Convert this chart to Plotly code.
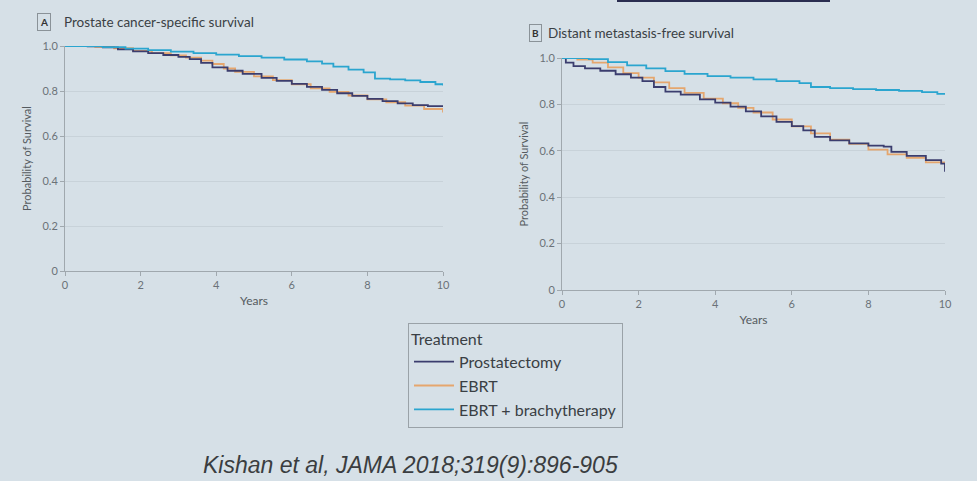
import plotly.graph_objects as go

# ---------------- data ----------------
series_names = ["Prostatectomy", "EBRT", "EBRT + brachytherapy"]

# Panel A: Prostate cancer-specific survival
a_prost_t = [0, 0.6, 1.0, 1.4, 1.8, 2.2, 2.6, 3.0, 3.3, 3.6, 3.9, 4.3, 4.7, 5.2, 5.6, 6.0, 6.4, 6.8, 7.2, 7.6, 8.0, 8.4, 8.8, 9.2, 9.6, 10.0]
a_prost_s = [1.0, 0.998, 0.994, 0.985, 0.976, 0.968, 0.96, 0.952, 0.942, 0.925, 0.905, 0.89, 0.876, 0.858, 0.845, 0.832, 0.818, 0.805, 0.79, 0.778, 0.765, 0.755, 0.745, 0.737, 0.733, 0.733]
a_ebrt_t = [0, 0.8, 1.3, 1.8, 2.3, 2.8, 3.2, 3.6, 3.9, 4.2, 4.5, 5.0, 5.5, 6.0, 6.5, 7.0, 7.5, 8.0, 8.5, 9.0, 9.5, 10.0]
a_ebrt_s = [1.0, 0.996, 0.99, 0.978, 0.968, 0.958, 0.948, 0.935, 0.92, 0.9, 0.885, 0.865, 0.848, 0.83, 0.812, 0.796, 0.78, 0.763, 0.75, 0.735, 0.72, 0.705]
a_brachy_t = [0, 1.0, 1.6, 2.2, 2.8, 3.4, 4.0, 4.6, 5.2, 5.8, 6.4, 6.8, 7.1, 7.5, 7.9, 8.2, 8.6, 9.0, 9.4, 9.8, 10.0]
a_brachy_s = [1.0, 0.995, 0.988, 0.982, 0.975, 0.968, 0.962, 0.955, 0.948, 0.94, 0.932, 0.922, 0.908, 0.895, 0.883, 0.855, 0.852, 0.847, 0.84, 0.83, 0.825]

# Panel B: Distant metastasis-free survival
b_prost_t = [0, 0.1, 0.3, 0.6, 1.0, 1.4, 1.8, 2.1, 2.4, 2.7, 3.1, 3.6, 4.0, 4.4, 4.8, 5.2, 5.6, 6.0, 6.3, 6.6, 7.0, 7.5, 8.0, 8.4, 8.6, 9.0, 9.5, 9.9, 10.0]
b_prost_s = [1.0, 0.98, 0.965, 0.955, 0.945, 0.93, 0.915, 0.9, 0.875, 0.855, 0.842, 0.822, 0.808, 0.79, 0.77, 0.748, 0.725, 0.706, 0.688, 0.66, 0.645, 0.632, 0.622, 0.618, 0.595, 0.578, 0.56, 0.545, 0.51]
b_ebrt_t = [0, 0.4, 0.8, 1.2, 1.6, 2.0, 2.4, 2.8, 3.2, 3.7, 4.2, 4.6, 5.0, 5.5, 6.0, 6.5, 7.0, 7.5, 8.0, 8.5, 9.0, 9.5, 10.0]
b_ebrt_s = [1.0, 0.993, 0.98, 0.96, 0.935, 0.915, 0.895, 0.87, 0.85, 0.825, 0.805, 0.785, 0.765, 0.735, 0.705, 0.675, 0.648, 0.63, 0.605, 0.585, 0.57, 0.55, 0.525]
b_brachy_t = [0, 0.7, 1.2, 1.7, 2.2, 2.7, 3.2, 3.8, 4.4, 5.0, 5.6, 6.2, 6.5, 7.0, 7.6, 8.2, 8.8, 9.4, 9.8, 10.0]
b_brachy_s = [1.0, 0.995, 0.982, 0.968, 0.955, 0.943, 0.932, 0.922, 0.915, 0.908, 0.9, 0.892, 0.875, 0.87, 0.866, 0.862, 0.858, 0.853, 0.845, 0.843]

x_ticks = [0, 2, 4, 6, 8, 10]
y_ticks = [0, 0.2, 0.4, 0.6, 0.8, 1.0]
y_ticklabels = ["0", "0.2", "0.4", "0.6", "0.8", "1.0"]

# ---------------- style ----------------
colors = ["#3b3d6e", "#e5a66e", "#2ba5cf"]
BG = "#d6e0e7"
FONT = "Lato"
TICKC = "#6b7278"

fig = go.Figure()

panelA = [(a_prost_t, a_prost_s), (a_ebrt_t, a_ebrt_s), (a_brachy_t, a_brachy_s)]
panelB = [(b_prost_t, b_prost_s), (b_ebrt_t, b_ebrt_s), (b_brachy_t, b_brachy_s)]

order = [1, 0, 2]
for i in order:
    t, s = panelA[i]
    fig.add_trace(go.Scatter(x=t, y=s, mode="lines", line=dict(color=colors[i], width=1.8, shape="hv"),
                             name=series_names[i], legendrank=i, showlegend=True, cliponaxis=False,
                             xaxis="x", yaxis="y"))
for i in order:
    t, s = panelB[i]
    fig.add_trace(go.Scatter(x=t, y=s, mode="lines", line=dict(color=colors[i], width=1.8, shape="hv"),
                             name=series_names[i], showlegend=False, cliponaxis=False,
                             xaxis="x2", yaxis="y2"))

def xax(domain, anchor):
    return dict(domain=domain, anchor=anchor, range=[0, 10], tickvals=x_ticks, showgrid=False,
                showline=True, linecolor="#a0a8ae", linewidth=1, ticks="outside", ticklen=4,
                tickcolor="#a0a8ae", tickfont=dict(family=FONT, size=11, color=TICKC),
                title=dict(text="Years", font=dict(family=FONT, size=12, color="#555b60"), standoff=6),
                zeroline=False, automargin=False)

def yax(domain, anchor):
    return dict(domain=domain, anchor=anchor, range=[0, 1.0], tickvals=y_ticks, ticktext=y_ticklabels,
                showgrid=True, gridcolor="#c8d2d9", gridwidth=1, showline=True, linecolor="#a0a8ae",
                linewidth=1, ticks="outside", ticklen=4, tickcolor="#a0a8ae",
                tickfont=dict(family=FONT, size=11, color=TICKC),
                title=dict(text="Probability of Survival", font=dict(family=FONT, size=11, color="#555b60"), standoff=8),
                zeroline=False, automargin=False)

fig.update_layout(
    width=977, height=481,
    margin=dict(l=0, r=0, t=0, b=0, autoexpand=False),
    paper_bgcolor=BG, plot_bgcolor=BG,
    xaxis=xax([65/977, 443/977], "y"),
    yaxis=yax([1-271/481, 1-46/481], "x"),
    xaxis2=xax([562/977, 945/977], "y2"),
    yaxis2=yax([1-290/481, 1-58/481], "x2"),
    legend=dict(x=408/977, y=1-323/481, xanchor="left", yanchor="top",
                bgcolor="rgba(0,0,0,0)", bordercolor="#9aa2a8", borderwidth=1,
                font=dict(family=FONT, size=16, color="#3a3f44"),
                title=dict(text="Treatment", font=dict(family=FONT, size=16, color="#3a3f44")),
                tracegroupgap=0, itemwidth=40),
    showlegend=True,
)

annots = [
    dict(x=44, y=22, text="<b>A</b>"),
    dict(x=535, y=33, text="<b>B</b>"),
]
for a in annots:
    fig.add_annotation(x=a["x"]/977, y=1-a["y"]/481, xref="paper", yref="paper", text=a["text"],
                       showarrow=False, font=dict(family=FONT, size=10, color="#333"),
                       bordercolor="#8a9298", borderwidth=1,
                       borderpad=2, xanchor="center", yanchor="middle")
fig.add_annotation(x=62/977, y=1-22/481, xref="paper", yref="paper", text="Prostate cancer-specific survival",
                   showarrow=False, xanchor="left", yanchor="middle",
                   font=dict(family=FONT, size=13.5, color="#3a3f44"))
fig.add_annotation(x=546/977, y=1-33/481, xref="paper", yref="paper", text="Distant metastasis-free survival",
                   showarrow=False, xanchor="left", yanchor="middle",
                   font=dict(family=FONT, size=13.5, color="#3a3f44"))
fig.add_annotation(x=410/977, y=1-465/481, xref="paper", yref="paper",
                   text="<i>Kishan et al, JAMA 2018;319(9):896-905</i>",
                   showarrow=False, xanchor="center", yanchor="middle",
                   font=dict(family="Liberation Sans", size=23, color="#3a3d40"))

fig.add_shape(type="line", xref="paper", yref="paper", x0=617/977, x1=830/977, y0=1-1/481, y1=1-1/481,
              line=dict(color="#2a2d50", width=2))

fig.write_html("out.html", config={"displayModeBar": False},
               post_script="document.body.style.margin='0';document.body.style.overflow='hidden';"
                           "document.body.style.background='" + BG + "';")
